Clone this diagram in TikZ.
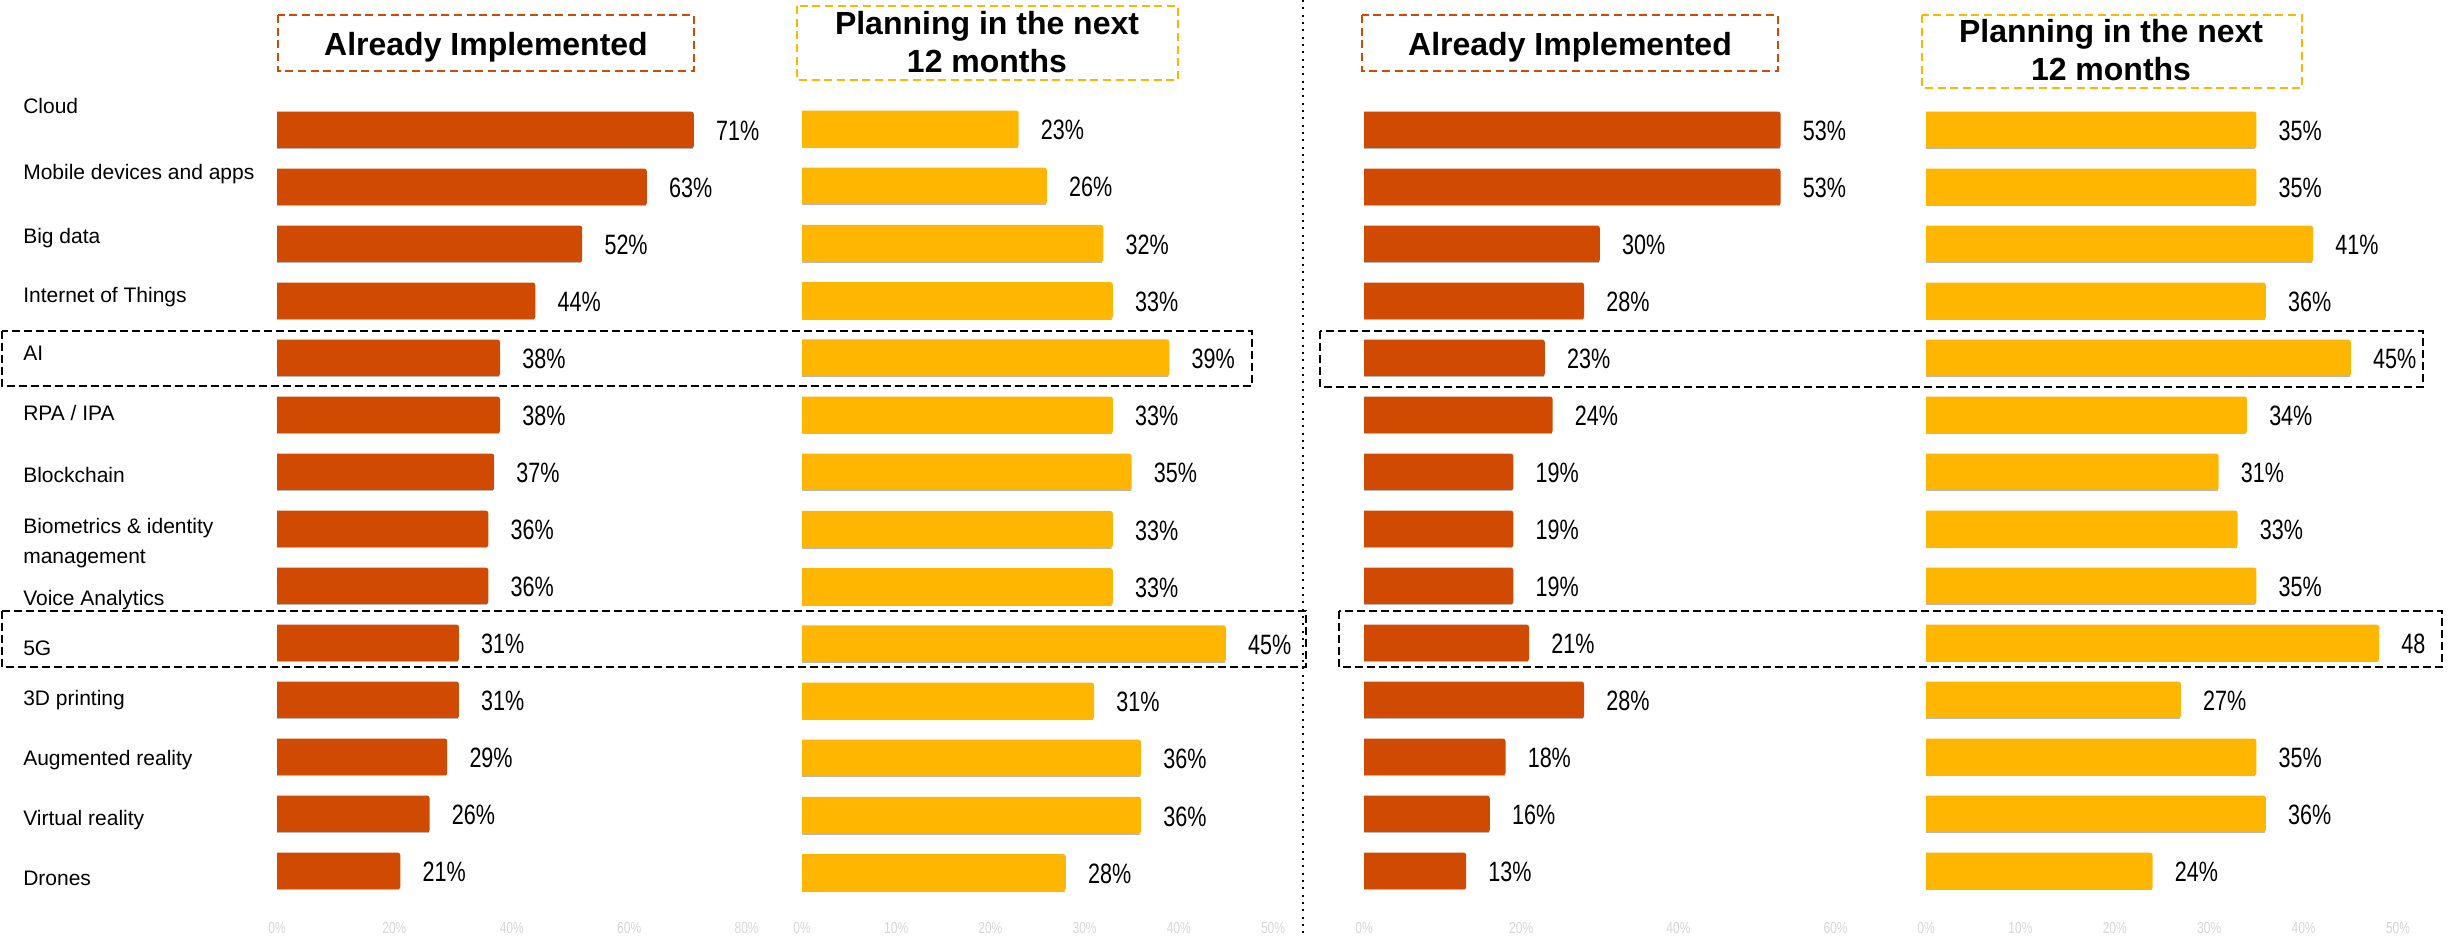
\documentclass[tikz,border=0pt]{standalone}
\usepackage{fontspec}
\setmainfont{Liberation Sans}
\usepackage{graphicx}
\definecolor{pwcOrange}{RGB}{208,74,2}
\definecolor{pwcYellow}{RGB}{255,182,0}
\newcommand{\narrowtxt}[2][0.77]{\scalebox{#1}[1]{#2}}
\begin{document}
\begin{tikzpicture}[x=0.75pt,y=-0.75pt,
  lab/.style={anchor=base west, inner sep=0pt, font=\fontsize{15.75}{22.5}\selectfont, align=left},
  pct/.style={anchor=west, inner sep=0pt, font=\fontsize{21}{24}\selectfont},
  ttl/.style={inner sep=0pt, font=\fontsize{24}{28.5}\selectfont\bfseries, align=center},
  axl/.style={inner sep=0pt, font=\fontsize{12}{14}\selectfont, text=black!16},
  hbox/.style={draw=black, line width=1.5pt, dash pattern=on 6pt off 3pt},
  tbox/.style={line width=1.4pt, dash pattern=on 6pt off 3.5pt},
  shade/.style={draw=black!28, line width=0.6pt}
]
\useasboundingbox (0,0) rectangle (2455,935);

% divider
\draw[line width=1.6pt, dash pattern=on 1.5pt off 4pt] (1303,0) -- (1303,935);

% titles
\draw[tbox, pwcOrange] (278,15) rectangle (694,71);
\node[ttl, anchor=base] (t1) at (486,55) {Already Implemented};
\draw[tbox, pwcYellow] (797,6) rectangle (1178,80);
\node[ttl] (t2) at (987,42.3) {Planning in the next\\12 months};
\draw[tbox, pwcOrange] (1362,15) rectangle (1778,71);
\node[ttl, anchor=base] (t3) at (1570,55) {Already Implemented};
\draw[tbox, pwcYellow] (1922,15) rectangle (2302,88);
\node[ttl] (t4) at (2111,50.3) {Planning in the next\\12 months};

% row labels
\node[lab] (l0) at (23,113) {Cloud};
\node[lab] (l1) at (23,179) {Mobile devices and apps};
\node[lab] (l2) at (23,243) {Big data};
\node[lab] (l3) at (23,302) {Internet of Things};
\node[lab] (l4) at (23,360) {AI};
\node[lab] (l5) at (23,420) {RPA / IPA};
\node[lab] (l6) at (23,482) {Blockchain};
\node[lab] (l7) at (23,563) {Biometrics \& identity\\management};
\node[lab] (l8) at (23,605) {Voice Analytics};
\node[lab] (l9) at (23,655) {5G};
\node[lab] (l10) at (23,705) {3D printing};
\node[lab] (l11) at (23,765) {Augmented reality};
\node[lab] (l12) at (23,825) {Virtual reality};
\node[lab] (l13) at (23,885) {Drones};

% left: already implemented
\foreach \v [count=\i from 0] in {71,63,52,44,38,38,37,36,36,31,31,29,26,21} {
  \pgfmathsetmacro\yc{130+57*\i}
  \pgfmathsetmacro\xe{277+5.87*\v}
  \fill[pwcOrange] (277,\yc-18.5) [rounded corners=2pt] -- (\xe,\yc-18.5) -- (\xe,\yc+18.5) [sharp corners] -- (277,\yc+18.5) -- cycle;
  \draw[shade] (277,\yc+18.5) -- (\xe-1,\yc+18.5);
  \node[pct] (lo\i) at (\xe+22,\yc+1) {\narrowtxt{\v\%}};
}
% left: planning
\foreach \v [count=\i from 0] in {23,26,32,33,39,33,35,33,33,45,31,36,36,28} {
  \pgfmathsetmacro\yc{129+57.2*\i}
  \pgfmathsetmacro\xe{802+9.42*\v}
  \fill[pwcYellow] (802,\yc-18.5) [rounded corners=2pt] -- (\xe,\yc-18.5) -- (\xe,\yc+18.5) [sharp corners] -- (802,\yc+18.5) -- cycle;
  \draw[shade] (802,\yc+18.5) -- (\xe-1,\yc+18.5);
  \node[pct] (ly\i) at (\xe+22,\yc+1) {\narrowtxt{\v\%}};
}
% right: already implemented
\foreach \v [count=\i from 0] in {53,53,30,28,23,24,19,19,19,21,28,18,16,13} {
  \pgfmathsetmacro\yc{130+57*\i}
  \pgfmathsetmacro\xe{1364+7.86*\v}
  \fill[pwcOrange] (1364,\yc-18.5) [rounded corners=2pt] -- (\xe,\yc-18.5) -- (\xe,\yc+18.5) [sharp corners] -- (1364,\yc+18.5) -- cycle;
  \draw[shade] (1364,\yc+18.5) -- (\xe-1,\yc+18.5);
  \node[pct] (ro\i) at (\xe+22,\yc+1) {\narrowtxt{\v\%}};
}
% right: planning
\foreach \v/\t [count=\i from 0] in {35/35\%,35/35\%,41/41\%,36/36\%,45/45\%,34/34\%,31/31\%,33/33\%,35/35\%,48/48,27/27\%,35/35\%,36/36\%,24/24\%} {
  \pgfmathsetmacro\yc{130+57*\i}
  \pgfmathsetmacro\xe{1926+9.44*\v}
  \fill[pwcYellow] (1926,\yc-18.5) [rounded corners=2pt] -- (\xe,\yc-18.5) -- (\xe,\yc+18.5) [sharp corners] -- (1926,\yc+18.5) -- cycle;
  \draw[shade] (1926,\yc+18.5) -- (\xe-1,\yc+18.5);
  \node[pct] (ry\i) at (\xe+22,\yc+1) {\narrowtxt{\t}};
}

% axis tick labels (faint)
\foreach \v [count=\i] in {0,20,40,60,80}
  \node[axl] (axlo\i) at (277+5.87*\v,928) {\narrowtxt[0.75]{\v\%}};
\foreach \v [count=\i] in {0,10,20,30,40,50}
  \node[axl] (axly\i) at (802+9.42*\v,928) {\narrowtxt[0.75]{\v\%}};
\foreach \v [count=\i] in {0,20,40,60}
  \node[axl] (axro\i) at (1364+7.86*\v,928) {\narrowtxt[0.75]{\v\%}};
\foreach \v [count=\i] in {0,10,20,30,40,50}
  \node[axl] (axry\i) at (1926+9.44*\v,928) {\narrowtxt[0.75]{\v\%}};

% highlight boxes
\draw[hbox] (2,331) rectangle (1252,386);
\draw[hbox] (2,611) rectangle (1306,667);
\draw[hbox] (1320,331) rectangle (2423,387);
\draw[hbox] (1339,611) rectangle (2442,667);
\end{tikzpicture}
\end{document}
